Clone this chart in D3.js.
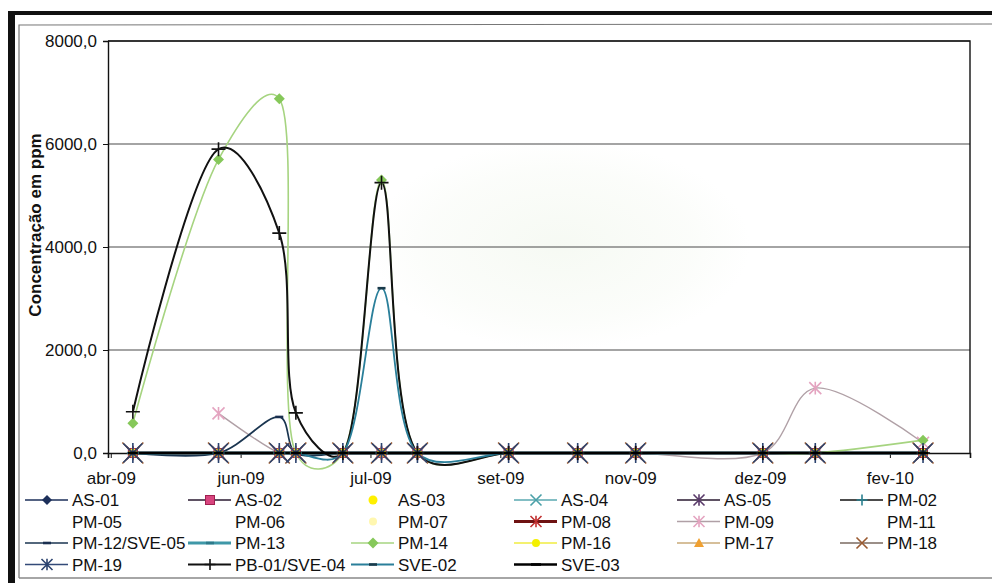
<!DOCTYPE html>
<html>
<head>
<meta charset="utf-8">
<script src="https://cdn.jsdelivr.net/npm/d3@7"></script>
<style>
  html, body { margin: 0; padding: 0; background: #fff; }
  svg { display: block; font-family: "Liberation Sans", Arial, sans-serif; }
</style>
</head>
<body>
<svg id="chart" width="992" height="583"></svg>
<script>
// ---- Datas de amostragem ----
const sampleDates = ["2009-05-06", "2009-06-06", "2009-06-28", "2009-07-04", "2009-07-21",
  "2009-08-04", "2009-08-17", "2009-09-19", "2009-10-14", "2009-11-04",
  "2009-12-20", "2010-01-08", "2010-02-16"];

// ---- Eixos ----
const xDomain = ["2009-04-27", "2010-03-05"];
const tickDates = ["2009-04-28", "2009-06-14", "2009-07-31", "2009-09-16",
  "2009-11-02", "2009-12-19", "2010-02-04"];
const yTicks = [0, 2000, 4000, 6000, 8000];
const yMax = 8000;

// ---- Séries (concentração em ppm) ----
const seriesNames = ["AS-01", "AS-02", "AS-03", "AS-04", "AS-05", "PM-02",
  "PM-05", "PM-06", "PM-07", "PM-08", "PM-09", "PM-11",
  "PM-12/SVE-05", "PM-13", "PM-14", "PM-16", "PM-17", "PM-18",
  "PM-19", "PB-01/SVE-04", "SVE-02", "SVE-03"];

const as01      = [0, 0, 0, 0, 0, 0, 0, 0, 0, 0, 0, 0, 0];
const as02      = [0, 0, 0, 0, 0, 0, 0, 0, 0, 0, 0, 0, 0];
const as03      = [0, 0, 0, 0, 0, 0, 0, 0, 0, 0, 0, 0, 0];
const as04      = [0, 0, 0, 0, 0, 0, 0, 0, 0, 0, 0, 0, 0];
const as05      = [0, 0, 0, 0, 0, 0, 0, 0, 0, 0, 0, 0, 0];
const pm02      = [0, 0, 0, 0, 0, 0, 0, 0, 0, 0, 0, 0, 0];
const pm05      = [0, 0, 0, 0, 0, 0, 0, 0, 0, 0, 0, 0, 0];
const pm06      = [0, 0, 0, 0, 0, 0, 0, 0, 0, 0, 0, 0, 0];
const pm07      = [0, 0, 0, 0, 0, 0, 0, 0, 0, 0, 0, 0, 0];
const pm08      = [0, 0, 0, 0, 0, 0, 0, 0, 0, 0, 0, 0, 0];
const pm09      = [null, 770, 0, 0, 0, 0, 0, 0, 0, 0, 0, 1260, 200];
const pm11      = [0, 0, 0, 0, 0, 0, 0, 0, 0, 0, 0, 0, 0];
const pm12sve05 = [0, 0, 700, 0, 0, 0, 0, 0, 0, 0, 0, 0, 0];
const pm13      = [0, 0, 0, 0, 0, 0, 0, 0, 0, 0, 0, 0, 0];
const pm14      = [580, 5700, 6880, 0, 0, 5300, 0, 0, 0, 0, 0, 0, 250];
const pm16      = [0, 0, 0, 0, 0, 0, 0, 0, 0, 0, 0, 0, 0];
const pm17      = [0, 0, 0, 0, 0, 0, 0, 0, 0, 0, 0, 0, 0];
const pm18      = [0, 0, 0, 0, 0, 0, 0, 0, 0, 0, 0, 0, 0];
const pm19      = [0, 0, 0, 0, 0, 0, 0, 0, 0, 0, 0, 0, 0];
const pb01sve04 = [800, 5900, 4270, 780, 0, 5250, 0, 0, 0, 0, 0, 0, 0];
const sve02     = [0, 0, 0, 0, 0, 3200, 0, 0, 0, 0, 0, 0, 0];
const sve03     = [0, 0, 0, 0, 0, 0, 0, 0, 0, 0, 0, 0, 0];

const seriesValues = [as01, as02, as03, as04, as05, pm02, pm05, pm06, pm07, pm08,
  pm09, pm11, pm12sve05, pm13, pm14, pm16, pm17, pm18, pm19, pb01sve04, sve02, sve03];

// ---- Estilo de cada série (linha e marcador) ----
const seriesStyles = {
  "AS-01":        { line: "#1c2f5a", width: 1.5, marker: { shape: "diamond", size: 5, fill: "#1c2f5a" } },
  "AS-02":        { line: "#2a1830", width: 1.5, marker: { shape: "square", size: 4.5, fill: "#d8457f", stroke: "#a02050" } },
  "AS-03":        { line: null, marker: { shape: "circle", size: 4.5, fill: "#fff000" } },
  "AS-04":        { line: "#5aa8b0", width: 1.5, marker: { shape: "x", size: 6, stroke: "#4aa0a8" } },
  "AS-05":        { line: "#2a1830", width: 1.5, marker: { shape: "star", size: 6, stroke: "#5a3a6a" } },
  "PM-02":        { line: "#111111", width: 1.5, marker: { shape: "plus", size: 6, stroke: "#2a8090" } },
  "PM-05":        { line: null, marker: null },
  "PM-06":        { line: null, marker: null },
  "PM-07":        { line: null, marker: { shape: "circle", size: 4, fill: "#fff7b0" } },
  "PM-08":        { line: "#6e1212", width: 3, marker: { shape: "star", size: 7, stroke: "#c03030" } },
  "PM-09":        { line: "#b0a0a6", width: 1.4, marker: { shape: "star", size: 6, stroke: "#e4a4c0" } },
  "PM-11":        { line: null, marker: null },
  "PM-12/SVE-05": { line: "#1a3550", width: 1.7, marker: { shape: "dash", size: 4, stroke: "#1a2f50" } },
  "PM-13":        { line: "#3f98a8", width: 3, marker: { shape: "dash", size: 4, stroke: "#2d7a8a" } },
  "PM-14":        { line: "#a6d480", width: 1.6, marker: { shape: "diamond", size: 5.5, fill: "#86c85a" } },
  "PM-16":        { line: "#f0ec40", width: 1.5, marker: { shape: "circle", size: 4, fill: "#f4f000" } },
  "PM-17":        { line: "#c8aa78", width: 1.5, marker: { shape: "triangle", size: 5, fill: "#f0a030" } },
  "PM-18":        { line: "#7a6a60", width: 1.5, marker: { shape: "x", size: 10.5, stroke: "#9a5a30" } },
  "PM-19":        { line: "#334a78", width: 1.5, marker: { shape: "star", size: 9.5, stroke: "#2c4470" } },
  "PB-01/SVE-04": { line: "#111111", width: 2, marker: { shape: "plus", size: 7, stroke: "#111111" } },
  "SVE-02":       { line: "#2a7f9a", width: 1.8, marker: { shape: "dash", size: 4, stroke: "#1a3a4a" } },
  "SVE-03":       { line: "#000000", width: 2.5, marker: { shape: "dash", size: 5, stroke: "#000000" } }
};

// ---- Layout ----
const plot = { left: 108, right: 970, top: 41, bottom: 453 };
const svg = d3.select("#chart");
const parse = d3.timeParse("%Y-%m-%d");
const dates = sampleDates.map(parse);

const ptTime = d3.timeFormatLocale({
  dateTime: "%A, %e de %B de %Y. %X", date: "%d/%m/%Y", time: "%H:%M:%S",
  periods: ["AM", "PM"],
  days: ["domingo", "segunda", "terça", "quarta", "quinta", "sexta", "sábado"],
  shortDays: ["dom", "seg", "ter", "qua", "qui", "sex", "sáb"],
  months: ["janeiro", "fevereiro", "março", "abril", "maio", "junho", "julho",
    "agosto", "setembro", "outubro", "novembro", "dezembro"],
  shortMonths: ["jan", "fev", "mar", "abr", "mai", "jun", "jul", "ago", "set", "out", "nov", "dez"]
});
const ptNum = d3.formatLocale({ decimal: ",", thousands: ".", grouping: [3], currency: ["R$", ""] });

const x = d3.scaleTime().domain(xDomain.map(parse)).range([plot.left, plot.right]);
const y = d3.scaleLinear().domain([0, yMax]).range([plot.bottom, plot.top]);

// ---- Moldura externa (bordas do quadro) ----
const frame = svg.append("g");
frame.append("rect").attr("x", 8).attr("y", 11).attr("width", 984).attr("height", 4).attr("fill", "#111");
frame.append("rect").attr("x", 8).attr("y", 11).attr("width", 7).attr("height", 572).attr("fill", "#111");
frame.append("path")
  .attr("d", "M19,578 L19,25 L992,24")
  .attr("fill", "none").attr("stroke", "#777").attr("stroke-width", 1.2);
frame.append("path")
  .attr("d", "M19,578 L992,578")
  .attr("fill", "none").attr("stroke", "#888").attr("stroke-width", 1.5);

// ---- Leve mancha esverdeada do papel ----
const defs = svg.append("defs");
const haze = defs.append("radialGradient").attr("id", "haze");
haze.append("stop").attr("offset", "0%").attr("stop-color", "#e6f0de").attr("stop-opacity", 0.35);
haze.append("stop").attr("offset", "70%").attr("stop-color", "#e6f0de").attr("stop-opacity", 0.15);
haze.append("stop").attr("offset", "100%").attr("stop-color", "#e6f0de").attr("stop-opacity", 0);
svg.append("ellipse").attr("cx", 560).attr("cy", 245).attr("rx", 190).attr("ry", 105)
  .attr("fill", "url(#haze)");

// ---- Grade horizontal ----
svg.append("g").selectAll("line").data(yTicks.filter(v => v > 0)).join("line")
  .attr("x1", plot.left).attr("x2", plot.right)
  .attr("y1", d => y(d)).attr("y2", d => y(d))
  .attr("stroke", "#4a4a4a").attr("stroke-width", 1.1);

// Borda da área de plotagem
svg.append("path")
  .attr("d", `M${plot.left},${plot.top} L${plot.right},${plot.top} L${plot.right},${plot.bottom}`)
  .attr("fill", "none").attr("stroke", "#111").attr("stroke-width", 1.4);

// ---- Eixos ----
const yAxis = svg.append("g").attr("transform", `translate(${plot.left},0)`)
  .call(d3.axisLeft(y).tickValues(yTicks).tickFormat(ptNum.format(".1f")).tickSize(5).tickPadding(6));
yAxis.select(".domain").attr("stroke", "#111").attr("stroke-width", 1.4);
yAxis.selectAll(".tick line").attr("stroke", "#111");
yAxis.selectAll("text").attr("font-size", 17).attr("fill", "#111")
  .attr("font-family", "'Liberation Sans', Arial, sans-serif");

const xAxis = svg.append("g").attr("transform", `translate(0,${plot.bottom})`)
  .call(d3.axisBottom(x).tickValues(tickDates.map(parse)).tickFormat(ptTime.format("%b-%y"))
    .tickSize(5).tickPadding(14));
xAxis.select(".domain").attr("stroke", "#111").attr("stroke-width", 1.6);
xAxis.selectAll(".tick line").attr("stroke", "#111");
xAxis.selectAll("text").attr("font-size", 17).attr("fill", "#111")
  .attr("font-family", "'Liberation Sans', Arial, sans-serif");

// Título do eixo Y
svg.append("text")
  .attr("transform", "translate(41,225) rotate(-90)")
  .attr("text-anchor", "middle")
  .attr("font-size", 17).attr("font-weight", "bold").attr("fill", "#111")
  .text("Concentração em ppm");

// ---- Linhas suavizadas ----
const lineGen = d3.line()
  .defined(d => d.v != null)
  .x(d => x(d.date))
  .y(d => y(d.v))
  .curve(d3.curveCatmullRom.alpha(0.3));

const series = seriesNames.map((name, i) => ({
  name,
  style: seriesStyles[name],
  points: seriesValues[i].map((v, j) => ({ date: dates[j], v }))
}));

const linesG = svg.append("g");
series.forEach(s => {
  if (!s.style.line) return;
  linesG.append("path")
    .attr("d", lineGen(s.points))
    .attr("fill", "none")
    .attr("stroke", s.style.line)
    .attr("stroke-width", s.style.width)
    .attr("stroke-linejoin", "round");
});

// ---- Marcadores ----
function drawMarker(g, m, cx, cy, sz) {
  const s = sz;
  const sw = 1.6;
  switch (m.shape) {
    case "diamond":
      g.append("path").attr("d", `M${cx},${cy - s}L${cx + s},${cy}L${cx},${cy + s}L${cx - s},${cy}Z`)
        .attr("fill", m.fill).attr("stroke", m.stroke || "none");
      break;
    case "square":
      g.append("rect").attr("x", cx - s).attr("y", cy - s).attr("width", 2 * s).attr("height", 2 * s)
        .attr("fill", m.fill).attr("stroke", m.stroke || "none");
      break;
    case "circle":
      g.append("circle").attr("cx", cx).attr("cy", cy).attr("r", s).attr("fill", m.fill);
      break;
    case "triangle":
      g.append("path").attr("d", `M${cx},${cy - s}L${cx + s},${cy + s * 0.8}L${cx - s},${cy + s * 0.8}Z`)
        .attr("fill", m.fill);
      break;
    case "x":
      g.append("path").attr("d", `M${cx - s},${cy - s}L${cx + s},${cy + s}M${cx - s},${cy + s}L${cx + s},${cy - s}`)
        .attr("stroke", m.stroke).attr("stroke-width", sw);
      break;
    case "plus":
      g.append("path").attr("d", `M${cx - s},${cy}L${cx + s},${cy}M${cx},${cy - s}L${cx},${cy + s}`)
        .attr("stroke", m.stroke).attr("stroke-width", sw);
      break;
    case "star":
      g.append("path").attr("d", `M${cx - s},${cy - s}L${cx + s},${cy + s}M${cx - s},${cy + s}L${cx + s},${cy - s}M${cx},${cy - s * 1.05}L${cx},${cy + s * 1.05}`)
        .attr("stroke", m.stroke).attr("stroke-width", sw);
      break;
    case "dash":
      g.append("path").attr("d", `M${cx - s},${cy}L${cx + s},${cy}`)
        .attr("stroke", m.stroke).attr("stroke-width", 2.6);
      break;
  }
}

const markersG = svg.append("g");
series.forEach(s => {
  const m = s.style.marker;
  if (!m) return;
  s.points.forEach(p => {
    if (p.v == null) return;
    drawMarker(markersG, m, x(p.date), y(p.v), m.size);
  });
});

// ---- Legenda ----
const legend = svg.append("g");
const legCols = 6, legX0 = 72, legDX = 163, legY0 = 500, legDY = 21.5;
series.forEach((s, i) => {
  const col = i % legCols, row = Math.floor(i / legCols);
  const tx = legX0 + col * legDX, cy = legY0 + row * legDY;
  const g = legend.append("g");
  if (s.style.line) {
    g.append("line").attr("x1", tx - 47).attr("x2", tx - 4).attr("y1", cy).attr("y2", cy)
      .attr("stroke", s.style.line).attr("stroke-width", s.style.width);
  }
  if (s.style.marker) {
    drawMarker(g, s.style.marker, tx - 25, cy, Math.min(s.style.marker.size, 5.5));
  }
  g.append("text").attr("x", tx).attr("y", cy).attr("dy", "0.36em")
    .attr("font-size", 17).attr("fill", "#111").text(s.name);
});
</script>
</body>
</html>
